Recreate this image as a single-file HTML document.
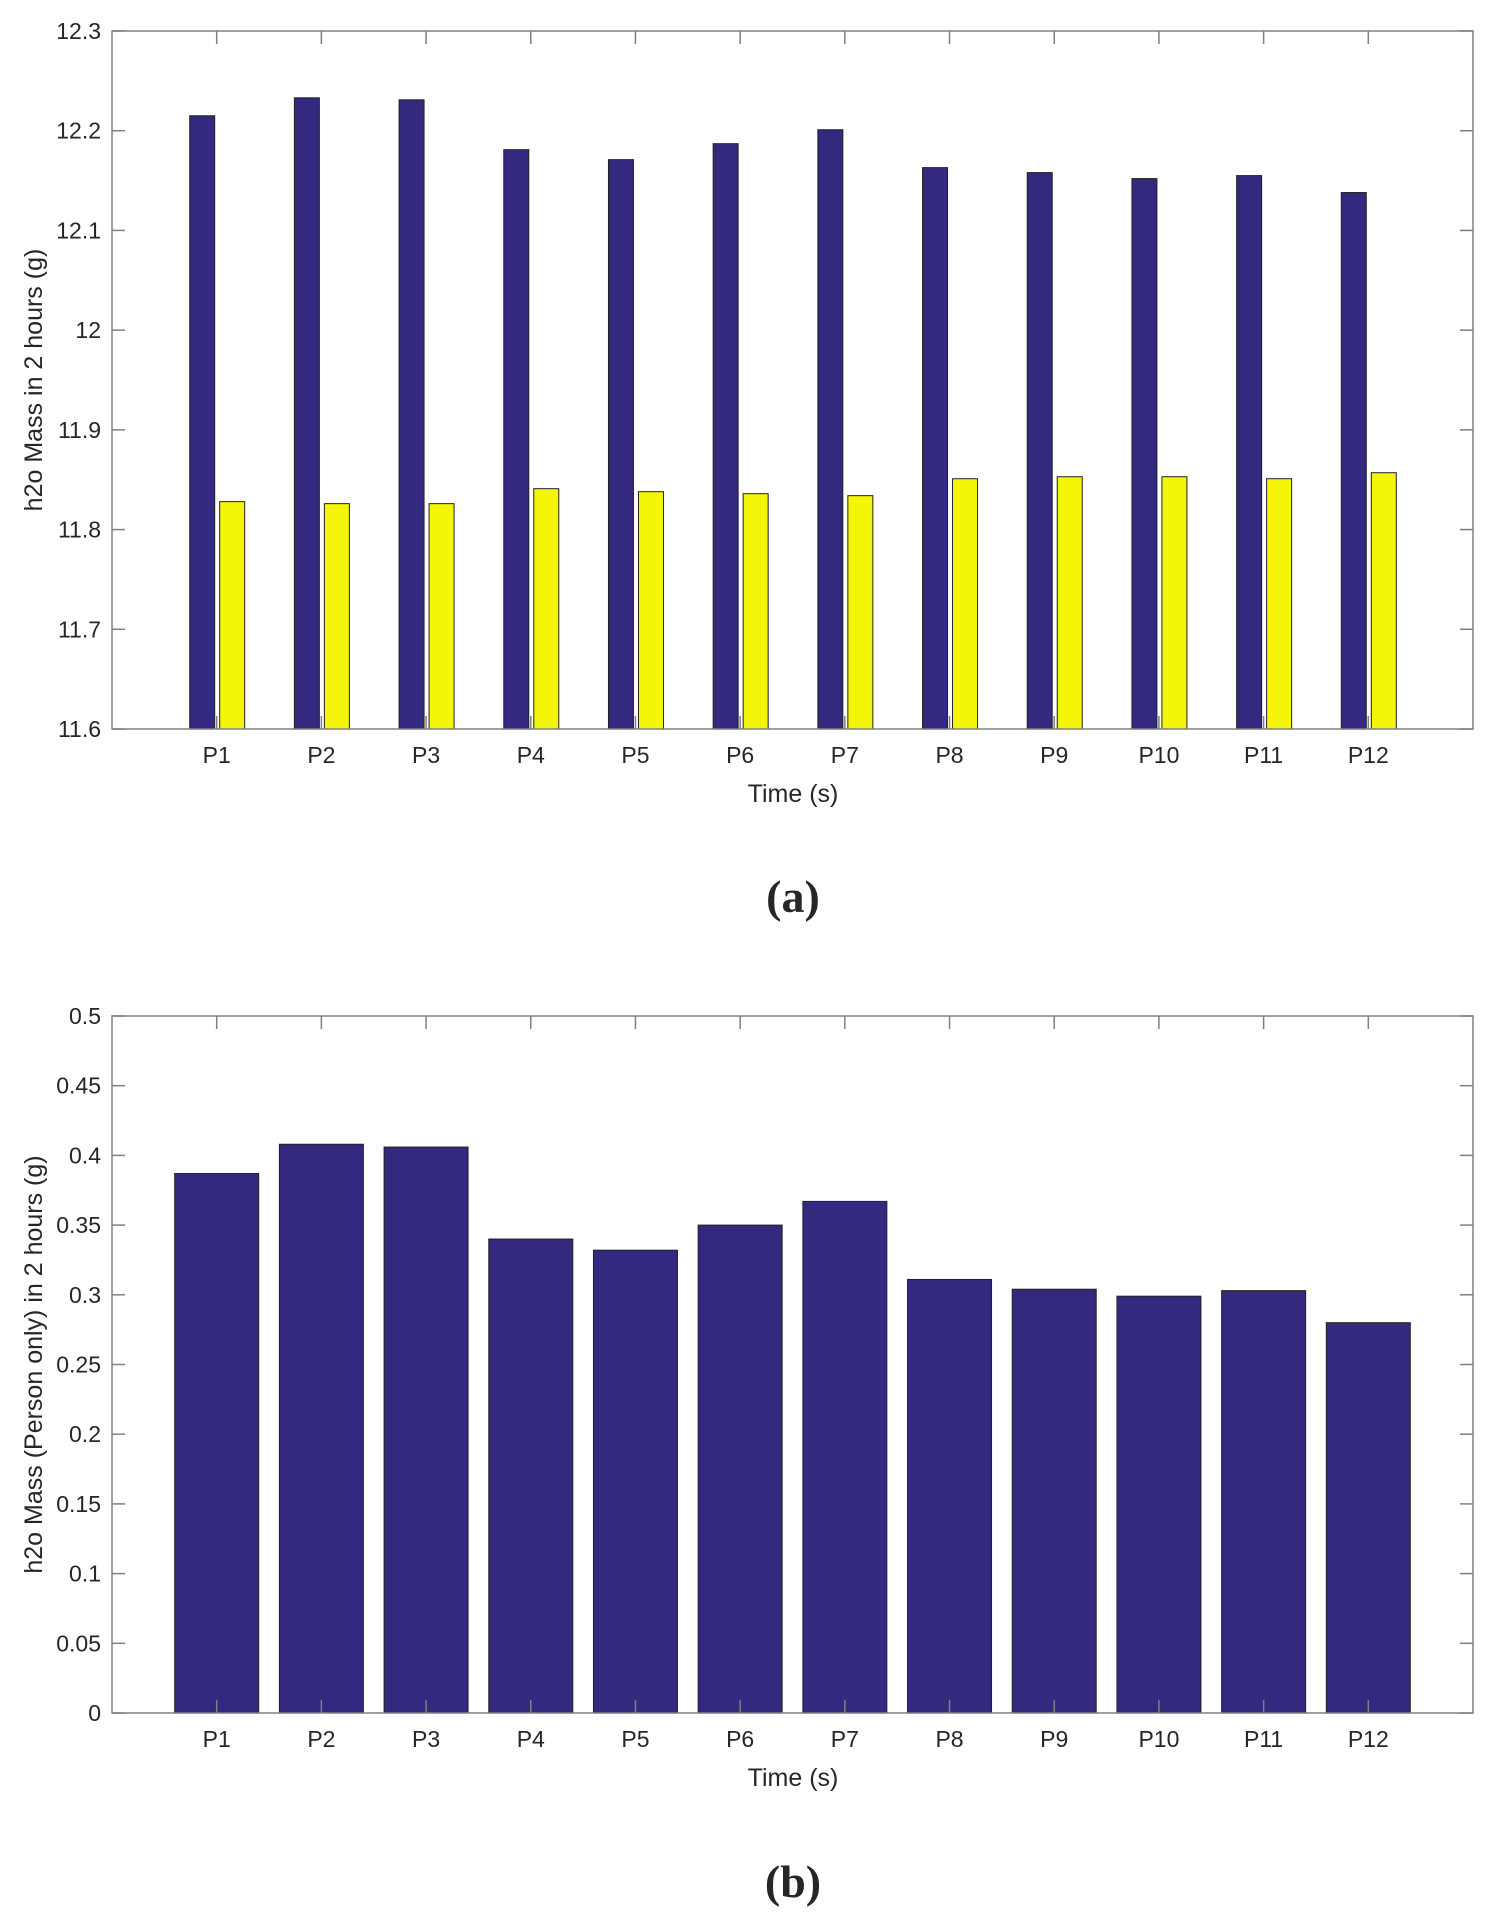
<!DOCTYPE html>
<html><head><meta charset="utf-8">
<style>
html,body{margin:0;padding:0;background:#fff;}
svg{display:block;}
text{font-family:"Liberation Sans",Arial,sans-serif;fill:#262626;}
</style></head>
<body>
<svg id="fig" width="1500" height="1922" viewBox="0 0 1500 1922" xmlns="http://www.w3.org/2000/svg"></svg>
<script>
const categories = ["P1","P2","P3","P4","P5","P6","P7","P8","P9","P10","P11","P12"];
const totalMass = [12.215,12.233,12.231,12.181,12.171,12.187,12.201,12.163,12.158,12.152,12.155,12.138];
const baseMass = [11.828,11.826,11.826,11.841,11.838,11.836,11.834,11.851,11.853,11.853,11.851,11.857];
const personMass = [0.387,0.408,0.406,0.340,0.332,0.350,0.367,0.311,0.304,0.299,0.303,0.280];
const ticksA = ["11.6","11.7","11.8","11.9","12","12.1","12.2","12.3"];
const ticksB = ["0","0.05","0.1","0.15","0.2","0.25","0.3","0.35","0.4","0.45","0.5"];

const NS = "http://www.w3.org/2000/svg";
const svg = document.getElementById('fig');
function mk(tag, attrs, parent, txt){
  const e = document.createElementNS(NS, tag);
  for (const k in attrs) e.setAttribute(k, attrs[k]);
  if (txt !== undefined) e.textContent = txt;
  (parent||svg).appendChild(e);
  return e;
}

function drawChart(cfg){
  const g = mk('g', {});
  
  
  const L=112, R=1473, T=cfg.top, B=cfg.bottom;
  const ymin=parseFloat(cfg.ticks[0]), ymax=parseFloat(cfg.ticks[cfg.ticks.length-1]);
  const y = v => B - (v - ymin) / (ymax - ymin) * (B - T);
  const step = (R - L) / (categories.length + 1);
  const x = i => L + step * (i + 1);
  cfg.series.forEach(s => {
    s.values.forEach((v, i) => {
      const r = mk('rect', {x: x(i) + s.off, y: y(v), width: s.w, height: B - y(v), fill: s.color, stroke: '#222', 'stroke-width': 1}, g);
      
      
    });
  });
  const fr = mk('rect', {x: L, y: T, width: R - L, height: B - T, fill: 'none', stroke: '#808080', 'stroke-width': 1.5}, g);
  
  
  cfg.ticks.forEach(t => {
    const yy = y(parseFloat(t));
    mk('line', {x1: L, x2: L + 13, y1: yy, y2: yy, stroke: '#808080', 'stroke-width': 1.5}, g);
    mk('line', {x1: R, x2: R - 13, y1: yy, y2: yy, stroke: '#808080', 'stroke-width': 1.5}, g);
    const lbl = mk('text', {x: 101, y: yy + 8, 'text-anchor': 'end', 'font-size': 23}, g, t);
    
    
  });
  categories.forEach((c, i) => {
    mk('line', {x1: x(i), x2: x(i), y1: B, y2: B - 13, stroke: '#808080', 'stroke-width': 1.5}, g);
    mk('line', {x1: x(i), x2: x(i), y1: T, y2: T + 13, stroke: '#808080', 'stroke-width': 1.5}, g);
    const lbl = mk('text', {x: x(i), y: B + 34, 'text-anchor': 'middle', 'font-size': 23}, g, c);
    
    
  });
  const xt = mk('text', {x: 793, y: B + 73, 'text-anchor': 'middle', 'font-size': 25}, g, 'Time (s)');
  
  
  const cy = (T + B) / 2;
  const yt = mk('text', {x: 42, y: cy, 'text-anchor': 'middle', 'font-size': 25, transform: 'rotate(-90 42 ' + cy + ')'}, g, cfg.ytitle);
  
  
  const cap = mk('text', {x: 793, y: cfg.capY, 'text-anchor': 'middle', 'font-size': 46, 'font-weight': 'bold', style: 'font-family:"Liberation Serif",serif'}, g, cfg.caption);
  
  
}

drawChart({name: 'chart-a', top: 31, bottom: 729, ticks: ticksA, ytitle: 'h2o Mass in 2 hours (g)', caption: '(a)', capY: 912,
  series: [{name: 'bar-total', values: totalMass, color: '#33297f', off: -27, w: 25},
           {name: 'bar-base', values: baseMass, color: '#f5f50a', off: 3, w: 25}]});
drawChart({name: 'chart-b', top: 1016, bottom: 1713, ticks: ticksB, ytitle: 'h2o Mass (Person only) in 2 hours (g)', caption: '(b)', capY: 1897,
  series: [{name: 'bar-person', values: personMass, color: '#33297f', off: -42, w: 84}]});
</script>
</body></html>
